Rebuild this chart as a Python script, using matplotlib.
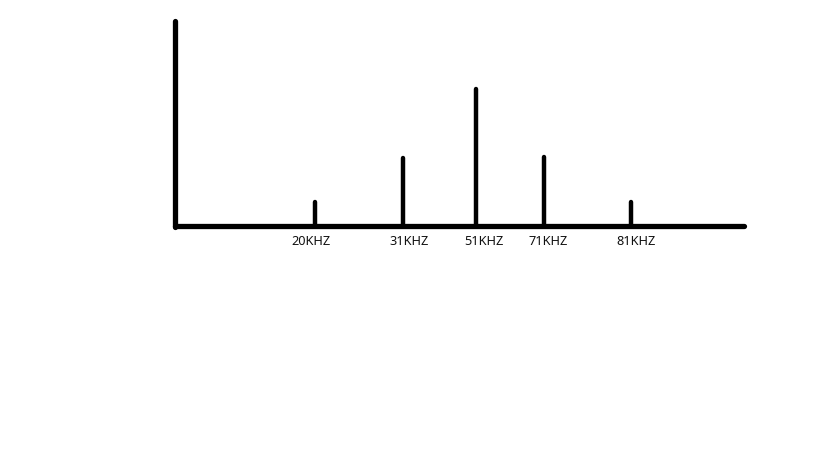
import matplotlib.pyplot as plt

# frequency components (hand drawn spectrum)
freq_labels = ['20KHZ', '31KHZ', '51KHZ', '71KHZ', '81KHZ']
freq_pos = [315, 403, 476, 544, 631]
amplitudes = [23, 67, 136, 68, 23]
label_pos = [311, 409, 484, 548, 636]

fig = plt.figure(figsize=(8.19, 4.6), dpi=100)
ax = fig.add_axes([0, 0, 1, 1])
ax.set_xlim(0, 819)
ax.set_ylim(-234, 226)
ax.axis('off')

# axes drawn by hand
ax.plot([175, 175], [-2, 204], color='black', lw=3.8, solid_capstyle='round')
ax.plot([175, 744], [-1, -1], color='black', lw=3.8, solid_capstyle='round')

for x, h in zip(freq_pos, amplitudes):
    ax.plot([x, x], [0, h], color='black', lw=3.2, solid_capstyle='round')

for x, lab in zip(label_pos, freq_labels):
    ax.text(x, -19, lab, ha='center', va='baseline', fontsize=9.2,
            family='Noto Sans', color='#111111')

fig.savefig('out.png', dpi=100)
